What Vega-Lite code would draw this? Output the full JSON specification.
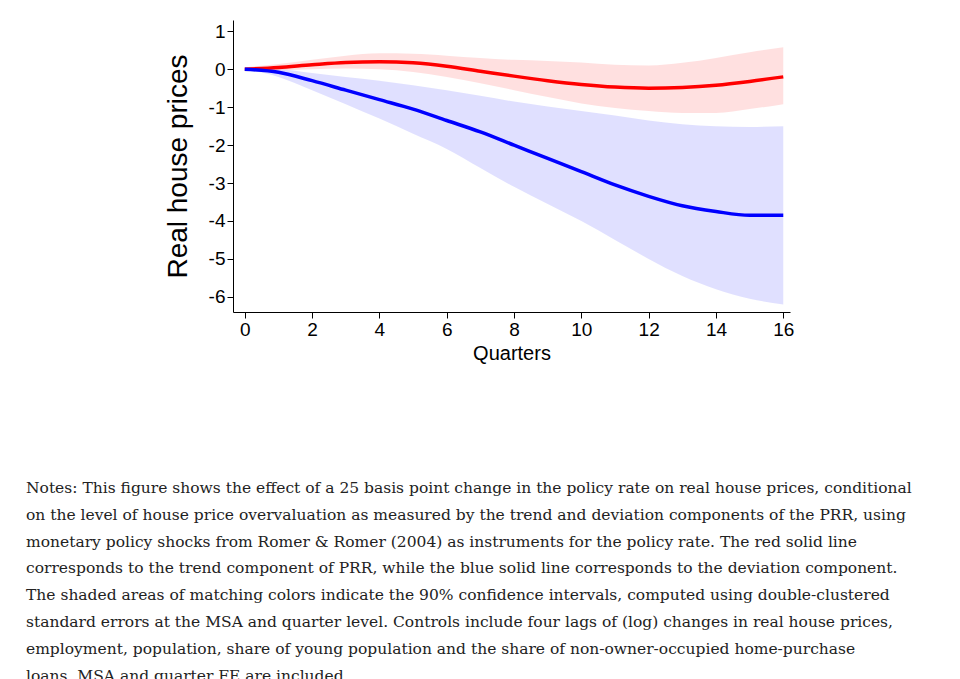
{
  "$schema": "https://vega.github.io/schema/vega-lite/v6.json",
  "autosize": "none",
  "width": 557,
  "height": 292,
  "padding": {"left": 233, "top": 20, "right": 170, "bottom": 367},
  "background": "white",
  "title": {
    "text": [
      "Notes: This figure shows the effect of a 25 basis point change in the policy rate on real house prices, conditional",
      "on the level of house price overvaluation as measured by the trend and deviation components of the PRR, using",
      "monetary policy shocks from Romer & Romer (2004) as instruments for the policy rate. The red solid line",
      "corresponds to the trend component of PRR, while the blue solid line corresponds to the deviation component.",
      "The shaded areas of matching colors indicate the 90% confidence intervals, computed using double-clustered",
      "standard errors at the MSA and quarter level. Controls include four lags of (log) changes in real house prices,",
      "employment, population, share of young population and the share of non-owner-occupied home-purchase",
      "loans. MSA and quarter FE are included."
    ],
    "orient": "bottom",
    "anchor": "start",
    "frame": "group",
    "dx": -207,
    "offset": 118,
    "font": "DejaVu Serif",
    "fontSize": 15.5,
    "fontWeight": "normal",
    "lineHeight": 26.8,
    "color": "#222"
  },
  "data": {
    "values": [
      {"q": 0, "s": "Trend PRR", "est": 0, "lo": -0.05, "hi": 0.05},
      {"q": 1, "s": "Trend PRR", "est": 0.05, "lo": -0.03, "hi": 0.14},
      {"q": 2, "s": "Trend PRR", "est": 0.12, "lo": 0.0, "hi": 0.25},
      {"q": 3, "s": "Trend PRR", "est": 0.18, "lo": 0.02, "hi": 0.36},
      {"q": 4, "s": "Trend PRR", "est": 0.2, "lo": 0.0, "hi": 0.42},
      {"q": 5, "s": "Trend PRR", "est": 0.17, "lo": -0.07, "hi": 0.41},
      {"q": 6, "s": "Trend PRR", "est": 0.08, "lo": -0.2, "hi": 0.36},
      {"q": 7, "s": "Trend PRR", "est": -0.05, "lo": -0.37, "hi": 0.3},
      {"q": 8, "s": "Trend PRR", "est": -0.18, "lo": -0.55, "hi": 0.25},
      {"q": 9, "s": "Trend PRR", "est": -0.3, "lo": -0.73, "hi": 0.22},
      {"q": 10, "s": "Trend PRR", "est": -0.4, "lo": -0.9, "hi": 0.18},
      {"q": 11, "s": "Trend PRR", "est": -0.47, "lo": -1.02, "hi": 0.12},
      {"q": 12, "s": "Trend PRR", "est": -0.5, "lo": -1.1, "hi": 0.1},
      {"q": 13, "s": "Trend PRR", "est": -0.48, "lo": -1.15, "hi": 0.17},
      {"q": 14, "s": "Trend PRR", "est": -0.42, "lo": -1.15, "hi": 0.3},
      {"q": 15, "s": "Trend PRR", "est": -0.32, "lo": -1.05, "hi": 0.45},
      {"q": 16, "s": "Trend PRR", "est": -0.2, "lo": -0.92, "hi": 0.58},
      {"q": 0, "s": "Dev. PRR", "est": 0, "lo": 0, "hi": 0},
      {"q": 1, "s": "Dev. PRR", "est": -0.08, "lo": -0.2, "hi": 0.0},
      {"q": 2, "s": "Dev. PRR", "est": -0.3, "lo": -0.55, "hi": -0.1},
      {"q": 3, "s": "Dev. PRR", "est": -0.55, "lo": -0.92, "hi": -0.2},
      {"q": 4, "s": "Dev. PRR", "est": -0.8, "lo": -1.3, "hi": -0.3},
      {"q": 5, "s": "Dev. PRR", "est": -1.05, "lo": -1.7, "hi": -0.42},
      {"q": 6, "s": "Dev. PRR", "est": -1.35, "lo": -2.1, "hi": -0.55},
      {"q": 7, "s": "Dev. PRR", "est": -1.65, "lo": -2.6, "hi": -0.7},
      {"q": 8, "s": "Dev. PRR", "est": -2.0, "lo": -3.1, "hi": -0.85},
      {"q": 9, "s": "Dev. PRR", "est": -2.35, "lo": -3.55, "hi": -0.98},
      {"q": 10, "s": "Dev. PRR", "est": -2.7, "lo": -4.0, "hi": -1.1},
      {"q": 11, "s": "Dev. PRR", "est": -3.05, "lo": -4.5, "hi": -1.22},
      {"q": 12, "s": "Dev. PRR", "est": -3.35, "lo": -5.0, "hi": -1.35},
      {"q": 13, "s": "Dev. PRR", "est": -3.6, "lo": -5.45, "hi": -1.45},
      {"q": 14, "s": "Dev. PRR", "est": -3.75, "lo": -5.8, "hi": -1.5},
      {"q": 15, "s": "Dev. PRR", "est": -3.85, "lo": -6.05, "hi": -1.52},
      {"q": 16, "s": "Dev. PRR", "est": -3.85, "lo": -6.2, "hi": -1.5}
    ]
  },
  "encoding": {
    "x": {
      "field": "q", "type": "quantitative",
      "scale": {"domain": [-0.35, 16.2], "nice": false, "zero": false},
      "axis": {"values": [0, 2, 4, 6, 8, 10, 12, 14, 16], "grid": false, "title": "Quarters",
        "labelFontSize": 19, "titleFontSize": 20, "titleFontWeight": "normal", "labelFont": "Liberation Sans", "titleFont": "Liberation Sans",
        "domainColor": "black", "tickColor": "black", "labelColor": "black", "titleColor": "black", "tickSize": 6, "titlePadding": 4}
    }
  },
  "layer": [
    {
      "mark": {"type": "area", "opacity": 0.12, "interpolate": "monotone"},
      "encoding": {
        "y": {"field": "lo", "type": "quantitative"},
        "y2": {"field": "hi"},
        "fill": {"field": "s", "type": "nominal", "scale": {"domain": ["Trend PRR", "Dev. PRR"], "range": ["#ff0000", "#0000ff"]}, "legend": null}
      }
    },
    {
      "mark": {"type": "rule", "color": "black", "strokeWidth": 1},
      "encoding": {"y": {"datum": 0}}
    },
    {
      "mark": {"type": "line", "strokeWidth": 3.5, "interpolate": "monotone"},
      "encoding": {
        "y": {
          "field": "est", "type": "quantitative",
          "scale": {"domain": [-6.4, 1.3], "nice": false},
          "axis": {"values": [1, 0, -1, -2, -3, -4, -5, -6], "grid": false, "title": "Real house prices",
            "labelExpr": "replace(datum.label, '−', '-')",
            "labelFontSize": 19, "titleFontSize": 28, "titleFontWeight": "normal", "labelFont": "Liberation Sans", "titleFont": "Liberation Sans",
            "domainColor": "black", "tickColor": "black", "labelColor": "black", "titleColor": "black", "tickSize": 6, "titlePadding": 16}
        },
        "color": {
          "field": "s", "type": "nominal", "sort": ["Trend PRR", "Dev. PRR"],
          "scale": {"domain": ["Trend PRR", "Dev. PRR"], "range": ["#ff0000", "#0000ff"]},
          "legend": {"orient": "bottom", "direction": "horizontal", "title": null, "symbolType": "stroke",
            "symbolStrokeWidth": 4, "symbolSize": 700, "labelFontSize": 28, "labelFont": "Liberation Sans", "labelColor": "black",
            "columnPadding": 30, "offset": 58, "labelLimit": 300}
        }
      }
    }
  ],
  "config": {"view": {"stroke": null}}
}
